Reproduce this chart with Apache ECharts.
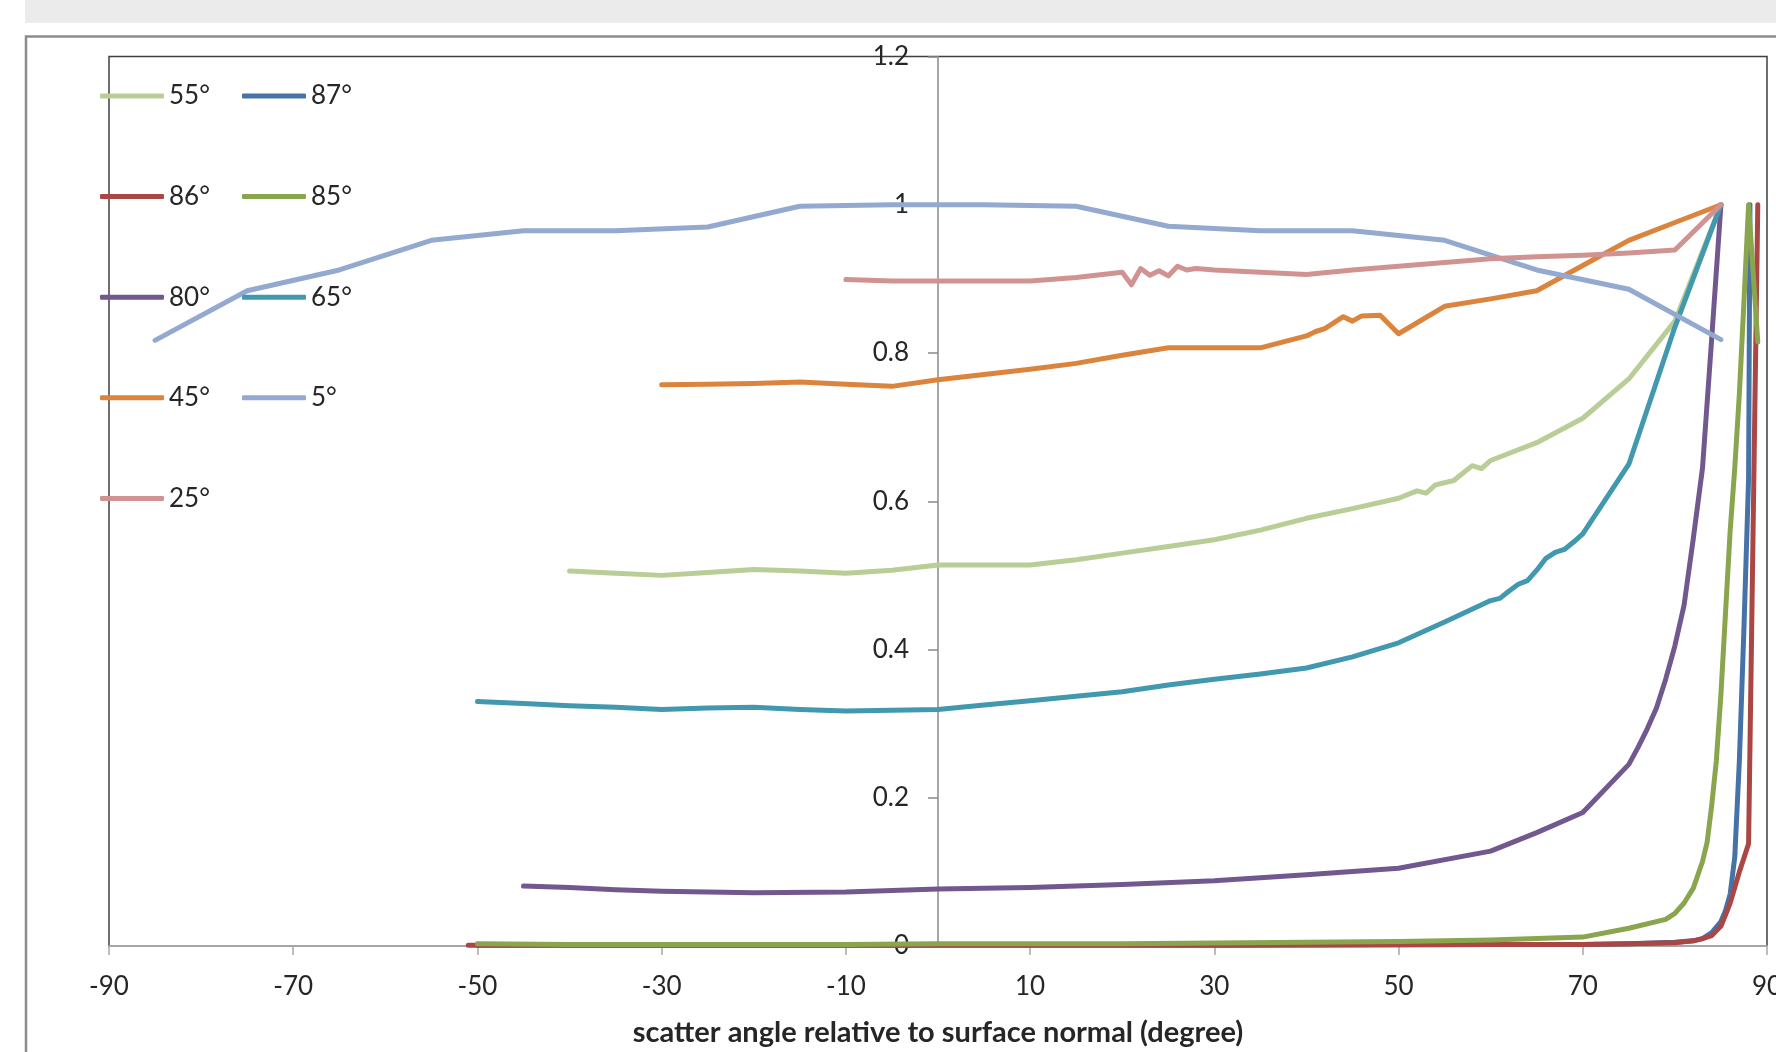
<!DOCTYPE html>
<html>
<head>
<meta charset="utf-8">
<script src="https://cdn.jsdelivr.net/npm/echarts@6/dist/echarts.min.js"></script>
<style>
html,body{margin:0;padding:0;background:#fff;}
#chart{width:1776px;height:1052px;}
</style>
</head>
<body>
<div id="chart"></div>
<script>
// ---- data (x = scatter angle in degrees, y = relative intensity) ----
const xTicks = [-90, -70, -50, -30, -10, 10, 30, 50, 70, 90];
const yTicks = [0, 0.2, 0.4, 0.6, 0.8, 1, 1.2];
const seriesNames = ['55°', '87°', '86°', '85°', '80°', '65°', '45°', '5°', '25°'];
const seriesColors = ['#B9CD96', '#4572A7', '#AA4643', '#89A54E', '#71588F', '#4198AF', '#DB843D', '#93A9CF', '#D19392'];
const legendCol1 = ['55°', '86°', '80°', '45°', '25°'];
const legendCol2 = ['87°', '85°', '65°', '5°'];

const s55 = [[-40,0.506],[-35,0.503],[-30,0.500],[-25,0.504],[-20,0.508],[-15,0.506],[-10,0.503],[-5,0.507],[0,0.514],[5,0.514],[10,0.514],[15,0.521],[20,0.530],[25,0.539],[30,0.548],[35,0.561],[40,0.577],[45,0.590],[50,0.604],[52,0.614],[53,0.611],[54,0.622],[56,0.628],[58,0.648],[59,0.644],[60,0.655],[65,0.679],[70,0.712],[75,0.765],[80,0.843],[85,1.0]];
const s87 = [[-50,0.001],[-30,0.001],[0,0.001],[30,0.001],[60,0.002],[70,0.002],[75,0.003],[80,0.005],[82,0.007],[83,0.010],[84,0.018],[85,0.033],[85.5,0.048],[86,0.070],[86.5,0.120],[87,0.250],[87.5,0.430],[88,0.630],[88.15,1.0]];
const s86 = [[-51,0.001],[-30,0.001],[0,0.001],[30,0.001],[60,0.002],[70,0.002],[75,0.003],[80,0.0045],[82,0.007],[83,0.010],[84,0.014],[85,0.027],[85.5,0.042],[86,0.058],[87,0.100],[88,0.138],[89,1.0]];
const s85 = [[-50,0.003],[-40,0.002],[-30,0.002],[-20,0.002],[-10,0.002],[0,0.003],[10,0.003],[20,0.003],[30,0.004],[40,0.005],[50,0.006],[60,0.008],[70,0.012],[75,0.024],[79,0.036],[80,0.044],[81,0.058],[82,0.078],[83,0.114],[83.5,0.140],[84,0.190],[84.5,0.250],[85,0.340],[85.5,0.450],[86,0.560],[86.5,0.645],[87,0.745],[87.5,0.870],[88,1.0],[89,0.815]];
const s80 = [[-45,0.081],[-40,0.079],[-35,0.076],[-30,0.074],[-20,0.072],[-10,0.073],[0,0.077],[10,0.079],[20,0.083],[30,0.088],[40,0.096],[50,0.105],[60,0.128],[65,0.153],[70,0.180],[75,0.245],[76,0.268],[77,0.293],[78,0.321],[79,0.360],[80,0.405],[81,0.460],[82,0.550],[83,0.645],[84,0.820],[85,1.0]];
const s65 = [[-50,0.330],[-45,0.327],[-40,0.324],[-35,0.322],[-30,0.319],[-25,0.321],[-20,0.322],[-15,0.319],[-10,0.317],[-5,0.318],[0,0.319],[5,0.325],[10,0.331],[15,0.337],[20,0.343],[25,0.352],[30,0.360],[35,0.367],[40,0.375],[45,0.390],[50,0.409],[55,0.437],[60,0.466],[61,0.469],[62,0.479],[63,0.488],[64,0.493],[65,0.507],[66,0.523],[67,0.531],[68,0.535],[69,0.545],[70,0.556],[75,0.650],[80,0.835],[85,1.0]];
const s45 = [[-30,0.757],[-25,0.758],[-20,0.759],[-15,0.761],[-10,0.758],[-5,0.755],[0,0.764],[5,0.771],[10,0.778],[15,0.786],[20,0.797],[25,0.807],[30,0.807],[35,0.807],[40,0.823],[41,0.829],[42,0.833],[43,0.841],[44,0.849],[45,0.843],[46,0.850],[48,0.851],[50,0.826],[55,0.863],[60,0.873],[65,0.884],[70,0.918],[75,0.952],[80,0.976],[85,1.0]];
const s5 = [[-85,0.817],[-75,0.884],[-65,0.912],[-55,0.952],[-45,0.965],[-35,0.965],[-25,0.970],[-15,0.998],[-5,1.0],[5,1.0],[15,0.998],[25,0.971],[35,0.965],[45,0.965],[55,0.952],[65,0.912],[75,0.886],[85,0.818]];
const s25 = [[-10,0.899],[-5,0.897],[0,0.897],[5,0.897],[10,0.897],[15,0.902],[20,0.909],[21,0.892],[22,0.914],[23,0.905],[24,0.911],[25,0.904],[26,0.917],[27,0.912],[28,0.914],[30,0.912],[35,0.909],[40,0.906],[45,0.912],[50,0.917],[55,0.922],[60,0.927],[65,0.930],[70,0.932],[75,0.935],[80,0.939],[85,1.0]];

const seriesData = [s55, s87, s86, s85, s80, s65, s45, s5, s25];

// ---- chart ----
const FONT = 'Lato, "Open Sans", sans-serif';
const TXT = '#262626';
const GRID_LEFT = 109, GRID_RIGHT = 9, CHART_W = 1776;
const X_MIN = -90, X_MAX = 90;
const plotW = CHART_W - GRID_LEFT - GRID_RIGHT;
// shift the y axis from the left edge of the plot to x = 0
const yAxisOffset = -plotW * (0 - X_MIN) / (X_MAX - X_MIN);

const chart = echarts.init(document.getElementById('chart'), null, {renderer: 'canvas'});

const legendCommon = {
  orient: 'vertical',
  icon: 'roundRect',
  itemWidth: 64,
  itemHeight: 5,
  itemGap: 70.6,
  padding: 0,
  selectedMode: false,
  textStyle: {fontFamily: FONT, fontSize: 26, color: TXT, lineHeight: 30}
};

const option = {
  animation: false,
  backgroundColor: '#ffffff',
  color: seriesColors,
  graphic: [
    {type: 'rect', shape: {x: 25, y: 0, width: 1760, height: 23}, style: {fill: '#ebebeb'}, silent: true, z: -10},
    {type: 'rect', shape: {x: 26, y: 36.5, width: 1800, height: 1100}, style: {fill: 'none', stroke: '#8c8c8c', lineWidth: 2.5}, silent: true, z: -10}
  ],
  grid: {
    left: GRID_LEFT, right: GRID_RIGHT, top: 56.5, bottom: 106,
    containLabel: false, outerBoundsMode: 'none',
    show: true, borderColor: '#3f3f3f', borderWidth: 1.5, backgroundColor: 'transparent'
  },
  legend: [
    Object.assign({}, legendCommon, {left: 100, top: 81, data: legendCol1}),
    Object.assign({}, legendCommon, {left: 242, top: 81, data: legendCol2})
  ],
  xAxis: {
    type: 'value', min: X_MIN, max: X_MAX,
    name: 'scatter angle relative to surface normal (degree)',
    nameLocation: 'middle', nameGap: 72,
    nameTextStyle: {fontFamily: FONT, fontSize: 29, fontWeight: 'bold', color: TXT},
    axisLine: {onZero: true, lineStyle: {color: '#a6a6a6', width: 2}},
    axisTick: {show: true, inside: false, length: 9, lineStyle: {color: '#a6a6a6', width: 1.5}, customValues: xTicks},
    axisLabel: {fontFamily: FONT, fontSize: 26, color: TXT, margin: 28, customValues: xTicks, showMinLabel: true, showMaxLabel: true},
    splitLine: {show: false}
  },
  yAxis: {
    type: 'value', min: 0, max: 1.2, interval: 0.2,
    position: 'left', offset: yAxisOffset,
    axisLine: {show: true, onZero: false, lineStyle: {color: '#8a8a8a', width: 1.5}},
    axisTick: {show: true, inside: false, length: 10, lineStyle: {color: '#8a8a8a', width: 1.5}},
    axisLabel: {fontFamily: FONT, fontSize: 26, color: TXT, margin: 29},
    splitLine: {show: false}
  },
  series: seriesNames.map((name, i) => ({
    name: name,
    type: 'line',
    data: seriesData[i],
    showSymbol: false,
    symbol: 'none',
    lineStyle: {width: 5, color: seriesColors[i], cap: 'round', join: 'round'},
    itemStyle: {color: seriesColors[i]},
    emphasis: {disabled: true},
    z: 2
  }))
};

chart.setOption(option);
</script>
</body>
</html>
